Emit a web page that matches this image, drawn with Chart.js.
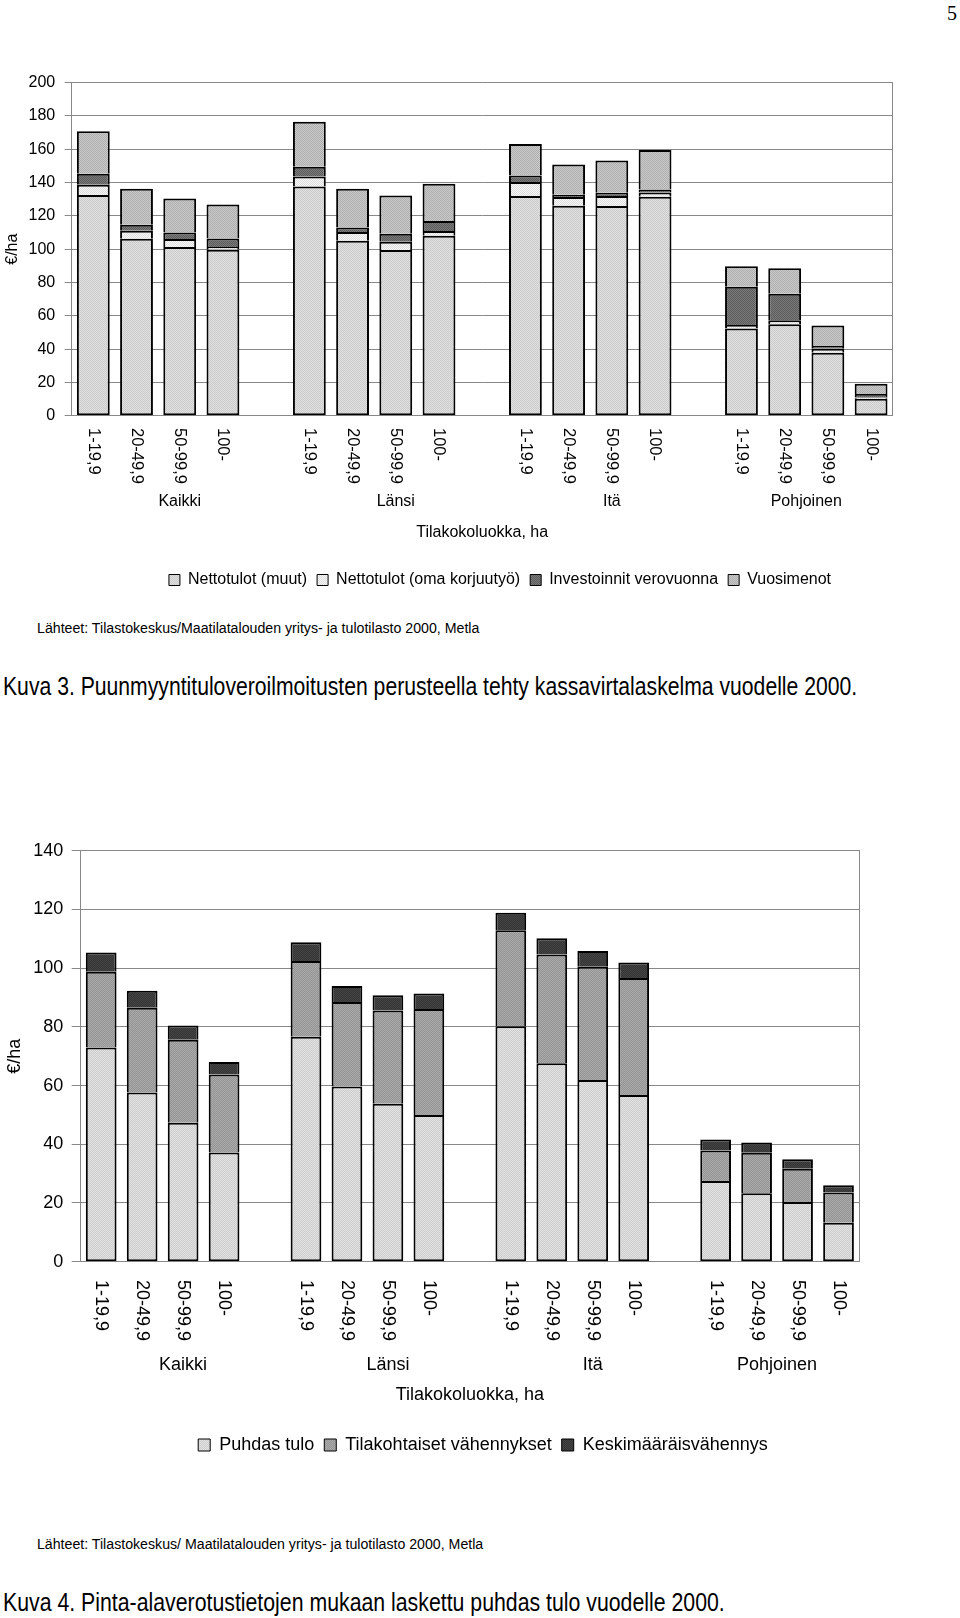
<!DOCTYPE html>
<html lang="fi">
<head>
<meta charset="utf-8">
<title>Kuva 3 ja Kuva 4</title>
<script src="https://cdn.jsdelivr.net/npm/chart.js@4.4.1/dist/chart.umd.min.js"></script>
<style>
  html, body { margin: 0; padding: 0; background: #fff; }
  body { width: 960px; height: 1618px; position: relative; overflow: hidden;
         font-family: 'Liberation Sans', Arial, sans-serif; color: #000; }
  .box { position: absolute; left: 0; width: 960px; }
  .note { position: absolute; white-space: nowrap; line-height: 1; transform-origin: 0 50%; }
  .pageno { position: absolute; left: 947px; top: 2px; line-height: 1;
            font: 20px 'Liberation Serif', 'Times New Roman', serif; }
</style>
</head>
<body>
<div class="pageno">5</div>

<div class="box" style="top:60px;height:542px"><canvas id="kuva3"></canvas></div>
<div class="note" data-w="442" style="left:37px;top:621px;font-size:14px">Lähteet: Tilastokeskus/Maatilatalouden yritys- ja tulotilasto 2000, Metla</div>
<div class="note" data-w="854" style="left:3px;top:673px;font-size:26px">Kuva 3. Puunmyyntituloveroilmoitusten perusteella tehty kassavirtalaskelma vuodelle 2000.</div>

<div class="box" style="top:825px;height:643px"><canvas id="kuva4"></canvas></div>
<div class="note" data-w="446" style="left:37px;top:1537px;font-size:14px">Lähteet: Tilastokeskus/ Maatilatalouden yritys- ja tulotilasto 2000, Metla</div>
<div class="note" data-w="722" style="left:3px;top:1589px;font-size:26px">Kuva 4. Pinta-alaverotustietojen mukaan laskettu puhdas tulo vuodelle 2000.</div>

<script>
const sizeClasses = ['1-19,9', '20-49,9', '50-99,9', '100-'];
const regions = ['Kaikki', 'Länsi', 'Itä', 'Pohjoinen'];

// Kuva 3, €/ha -- order Kaikki, Länsi, Itä, Pohjoinen, each by size class
const nettoMuut    = [132.5, 106.3, 101.3, 99.7, 137.7, 105.1, 99.5, 108.1, 131.9, 126.1, 125.9, 131.5, 52.3, 54.9, 37.8, 10.2];
const nettoOma     = [6.2, 4.8, 4.8, 1.6, 6.0, 5.2, 5.0, 2.8, 8.4, 5.2, 6.0, 2.6, 2.2, 2.4, 2.4, 0.8];
const investoinnit = [6.6, 3.6, 3.9, 5.2, 5.8, 2.8, 4.8, 6.0, 4.0, 1.4, 2.0, 1.8, 23.0, 16.0, 1.6, 2.0];
const vuosimenot   = [25.5, 21.6, 20.5, 20.4, 27.1, 23.2, 23.0, 22.4, 18.9, 18.1, 19.3, 23.7, 12.2, 15.2, 12.3, 6.2];

// Kuva 4, €/ha
const puhdasTulo     = [73.0, 57.6, 47.3, 37.2, 76.6, 59.7, 53.8, 50.0, 80.2, 67.6, 61.9, 56.8, 27.5, 23.3, 20.3, 13.3];
const tilakohtaiset  = [25.8, 28.9, 28.3, 26.6, 25.8, 28.8, 31.8, 36.1, 32.7, 37.0, 38.6, 39.8, 10.4, 13.8, 11.4, 10.3];
const keskimaaraiset = [6.5, 5.8, 4.9, 4.2, 6.4, 5.4, 5.2, 5.3, 6.0, 5.6, 5.3, 5.3, 3.7, 3.5, 3.2, 2.4];

// one empty slot between regions, like the excel original
const categories = [];
regions.forEach((r, g) => {
    sizeClasses.forEach(s => categories.push(s));
    if (g < regions.length - 1) categories.push('');
});

function withGaps(values) {
    const out = [];
    regions.forEach((r, g) => {
        out.push(...values.slice(g * 4, g * 4 + 4));
        if (g < regions.length - 1) out.push(null);
    });
    return out;
}

// small dither tile so the fills look like the printed raster
function dither(a, b) {
    const c = document.createElement('canvas');
    c.width = 2; c.height = 2;
    const g = c.getContext('2d');
    g.fillStyle = a; g.fillRect(0, 0, 2, 2);
    g.fillStyle = b; g.fillRect(0, 0, 1, 1); g.fillRect(1, 1, 1, 1);
    return g.createPattern(c, 'repeat');
}

const FONT = "'Liberation Sans', Arial, sans-serif";
Chart.defaults.font.family = FONT;
Chart.defaults.color = '#000';

// vertical size-class labels (read top to bottom) and region names under them
const groupAxis = {
    id: 'groupAxis',
    afterLayout(chart, args, opts) {
        if (chart.legend && opts.legendShift) {
            chart.legend.left += opts.legendShift;
            chart.legend.right += opts.legendShift;
        }
    },
    afterDraw(chart, args, opts) {
        const { ctx, chartArea } = chart;
        const x = chart.scales.x;
        ctx.save();
        ctx.fillStyle = '#000';
        ctx.font = `${opts.tickSize}px ${FONT}`;
        ctx.textAlign = 'left';
        ctx.textBaseline = 'middle';
        categories.forEach((label, i) => {
            if (!label) return;
            ctx.save();
            ctx.translate(x.getPixelForValue(i), chartArea.bottom + opts.tickGap);
            ctx.rotate(Math.PI / 2);
            ctx.fillText(label, 0, 0);
            ctx.restore();
        });
        ctx.font = `${opts.groupSize}px ${FONT}`;
        ctx.textAlign = 'center';
        regions.forEach((name, g) => {
            const first = g * 5;
            const last = Math.min(first + 4, categories.length - 1);
            const cx = (x.getPixelForValue(first) + x.getPixelForValue(last)) / 2;
            ctx.fillText(name, cx, chartArea.bottom + opts.groupGap);
        });
        ctx.restore();
    }
};

const thinLegend = chart => Chart.defaults.plugins.legend.labels.generateLabels(chart)
    .map(item => ({ ...item, lineWidth: 1, strokeStyle: '#000' }));

new Chart(document.getElementById('kuva3'), {
    type: 'bar',
    data: {
        labels: categories,
        datasets: [
            { label: 'Nettotulot (muut)', data: withGaps(nettoMuut), backgroundColor: dither('#e0e0e0', '#cbcbcb'), borderSkipped: false },
            { label: 'Nettotulot (oma korjuutyö)', data: withGaps(nettoOma), backgroundColor: dither('#f8f8f8', '#dcdcdc') },
            { label: 'Investoinnit verovuonna', data: withGaps(investoinnit), backgroundColor: dither('#7a7a7a', '#5c5c5c') },
            { label: 'Vuosimenot', data: withGaps(vuosimenot), backgroundColor: dither('#c9c9c9', '#afafaf') }
        ]
    },
    options: {
        responsive: true,
        maintainAspectRatio: false,
        animation: false,
        datasets: { bar: { borderColor: '#000', borderWidth: 2, barPercentage: 0.76, categoryPercentage: 1 } },
        layout: { padding: { top: 22.7, right: 0, bottom: 4, left: 0 } },
        scales: {
            x: {
                stacked: true,
                grid: { display: false },
                border: { color: '#888' },
                ticks: { display: false },
                title: { display: true, text: 'Tilakokoluokka, ha', font: { size: 16 }, padding: { top: 0, bottom: 19.4 } },
                afterFit: s => { s.height = 146.3; }
            },
            y: {
                stacked: true,
                min: 0, max: 200,
                ticks: { stepSize: 20, font: { size: 16 }, padding: 9.5 },
                grid: { color: '#888', tickLength: 7 },
                border: { color: '#888' },
                title: { display: true, text: '€/ha', font: { size: 16 }, padding: { top: 3 } },
                afterFit: s => { s.width = 71.7; }
            },
            y2: {
                position: 'right',
                min: 0, max: 200,
                ticks: { display: false },
                grid: { display: false },
                border: { color: '#888' },
                afterFit: s => { s.width = 67.3; }
            }
        },
        plugins: {
            legend: {
                position: 'bottom',
                labels: { boxWidth: 11, boxHeight: 11, padding: 10, font: { size: 16 }, generateLabels: thinLegend }
            },
            tooltip: { enabled: false },
            groupAxis: { tickSize: 16.5, tickGap: 12.3, groupSize: 16, groupGap: 86.3, legendShift: 20 }
        }
    },
    plugins: [groupAxis]
});

new Chart(document.getElementById('kuva4'), {
    type: 'bar',
    data: {
        labels: categories,
        datasets: [
            { label: 'Puhdas tulo', data: withGaps(puhdasTulo), backgroundColor: dither('#e2e2e2', '#cdcdcd'), borderSkipped: false },
            { label: 'Tilakohtaiset vähennykset', data: withGaps(tilakohtaiset), backgroundColor: dither('#ababab', '#939393') },
            { label: 'Keskimääräisvähennys', data: withGaps(keskimaaraiset), backgroundColor: dither('#444444', '#353535') }
        ]
    },
    options: {
        responsive: true,
        maintainAspectRatio: false,
        animation: false,
        datasets: { bar: { borderColor: '#000', borderWidth: 2, barPercentage: 0.75, categoryPercentage: 1 } },
        layout: { padding: { top: 25.7, right: 0, bottom: 4, left: 0 } },
        scales: {
            x: {
                stacked: true,
                grid: { display: false },
                border: { color: '#888' },
                ticks: { display: false },
                title: { display: true, text: 'Tilakokoluokka, ha', font: { size: 18 }, padding: { top: 0, bottom: 19.7 } },
                afterFit: s => { s.height = 164.3; }
            },
            y: {
                stacked: true,
                min: 0, max: 140,
                ticks: { stepSize: 20, font: { size: 18 }, padding: 8.4 },
                grid: { color: '#888', tickLength: 9 },
                border: { color: '#888' },
                title: { display: true, text: '€/ha', font: { size: 18 }, padding: { top: 4 } },
                afterFit: s => { s.width = 80.7; }
            },
            y2: {
                position: 'right',
                min: 0, max: 140,
                ticks: { display: false },
                grid: { display: false },
                border: { color: '#888' },
                afterFit: s => { s.width = 101; }
            }
        },
        plugins: {
            legend: {
                position: 'bottom',
                labels: { boxWidth: 12, boxHeight: 12, padding: 10, font: { size: 18 }, generateLabels: thinLegend }
            },
            tooltip: { enabled: false },
            groupAxis: { tickSize: 18, tickGap: 18.3, groupSize: 18, groupGap: 103.8, legendShift: 3 }
        }
    },
    plugins: [groupAxis]
});

// the source lines and captions are set in a narrow face in the original
document.querySelectorAll('.note').forEach(el => {
    el.style.transform = `scaleX(${el.dataset.w / el.offsetWidth})`;
});
</script>
</body>
</html>
